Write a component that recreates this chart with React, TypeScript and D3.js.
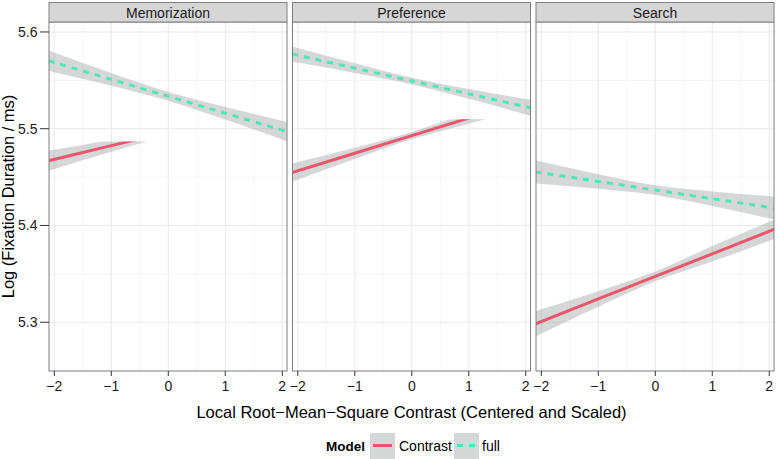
import React from "react";
import * as d3 from "d3";

const PANELS = ["Memorization", "Preference", "Search"];
const X_POINTS = [-2.1, -1, 0, 1, 2.1];
const X_TICKS = [-2, -1, 0, 1, 2];
const X_MINOR = [-1.5, -0.5, 0.5, 1.5];
const Y_TICKS = [5.3, 5.4, 5.5, 5.6];
const Y_MINOR = [5.25, 5.35, 5.45, 5.55];
const SERIES = ["Contrast", "full"];

const CONTRAST_FIT = [
  [5.4669, 5.4825, 5.4967, 5.511, 5.5265],
  [5.4546, 5.4746, 5.4928, 5.511, 5.531],
  [5.2984, 5.3241, 5.3474, 5.3707, 5.3964],
];
const CONTRAST_HALF = [
  [0.0105, 0.0062, 0.0042, 0.0062, 0.0105],
  [0.0095, 0.0058, 0.0038, 0.0058, 0.0095],
  [0.013, 0.008, 0.005, 0.008, 0.01],
];
const CONTRAST_LIMIT = [5.4868, 5.5098, null];
const FULL_FIT = [
  [5.5702, 5.551, 5.5335, 5.516, 5.4968],
  [5.5772, 5.5626, 5.5493, 5.536, 5.5214],
  [5.4553, 5.4455, 5.4366, 5.4277, 5.4179],
];
const FULL_HALF = [
  [0.0105, 0.0065, 0.0045, 0.0065, 0.01],
  [0.0078, 0.005, 0.0035, 0.005, 0.0085],
  [0.012, 0.0075, 0.005, 0.0075, 0.012],
];

const COLORS = { Contrast: "#E9566E", full: "#52E5B9" };
const RIBBON = "rgba(150,158,156,0.4)";
const FONT = "'Liberation Sans', Arial, Helvetica, sans-serif";

const W = 777;
const H = 459;
const LEFT0 = 49;
const PW = 238;
const GAP = 5.5;
const TOP = 22;
const BOTTOM = 371;
const STRIP_TOP = 2.5;

export default function App() {
  const y = d3.scaleLinear().domain([5.2496, 5.6103]).range([BOTTOM, TOP]);
  const xFor = (i: number) =>
    d3.scaleLinear().domain([-2.093, 2.083]).range([LEFT0 + i * (PW + GAP), LEFT0 + i * (PW + GAP) + PW]);

  const pts = (fit: number[], half: number[]) =>
    X_POINTS.map((x, k) => ({ x, fit: fit[k], lo: fit[k] - half[k], hi: fit[k] + half[k] }));

  const centerX = LEFT0 + (3 * PW + 2 * GAP) / 2;

  return (
    <svg width={W} height={H} style={{ position: "absolute", left: 0, top: 0, background: "#fff" }} fontFamily={FONT}>
      <rect x={0} y={0} width={W} height={H} fill="#fff" />
      {PANELS.map((name, i) => {
        const x = xFor(i);
        const x0 = x.range()[0];
        const x1 = x.range()[1];
        const area = d3
          .area<any>()
          .x((d) => x(d.x))
          .y0((d) => y(d.lo))
          .y1((d) => y(d.hi))
          .curve(d3.curveMonotoneX);
        const line = d3
          .line<any>()
          .x((d) => x(d.x))
          .y((d) => y(d.fit));
        const cData = pts(CONTRAST_FIT[i], CONTRAST_HALF[i]);
        const fData = pts(FULL_FIT[i], FULL_HALF[i]);
        const lim = CONTRAST_LIMIT[i];
        return (
          <g key={name}>
            <defs>
              <clipPath id={`clip${i}`}>
                <rect x={x0} y={TOP} width={x1 - x0} height={BOTTOM - TOP} />
              </clipPath>
              <clipPath id={`climit${i}`}>
                <rect
                  x={x0}
                  y={lim == null ? TOP : y(lim)}
                  width={x1 - x0}
                  height={BOTTOM - (lim == null ? TOP : y(lim))}
                />
              </clipPath>
            </defs>
            <rect x={x0} y={TOP} width={x1 - x0} height={BOTTOM - TOP} fill="#fff" />
            {X_MINOR.map((t) => (
              <line key={"xm" + t} x1={x(t)} x2={x(t)} y1={TOP} y2={BOTTOM} stroke="#f5f5f5" strokeWidth={1} />
            ))}
            {Y_MINOR.map((t) => (
              <line key={"ym" + t} x1={x0} x2={x1} y1={y(t)} y2={y(t)} stroke="#f5f5f5" strokeWidth={1} />
            ))}
            {X_TICKS.map((t) => (
              <line key={"xg" + t} x1={x(t)} x2={x(t)} y1={TOP} y2={BOTTOM} stroke="#e9e9e9" strokeWidth={1} />
            ))}
            {Y_TICKS.map((t) => (
              <line key={"yg" + t} x1={x0} x2={x1} y1={y(t)} y2={y(t)} stroke="#e9e9e9" strokeWidth={1} />
            ))}
            <g clipPath={`url(#clip${i})`}>
              <g clipPath={`url(#climit${i})`}>
                <path d={area(cData) || ""} fill={RIBBON} />
                <path d={line(cData) || ""} fill="none" stroke={COLORS.Contrast} strokeWidth={3} />
              </g>
              <path d={area(fData) || ""} fill={RIBBON} />
              <path
                d={line(fData) || ""}
                fill="none"
                stroke={COLORS.full}
                strokeWidth={3}
                strokeDasharray="6,6"
              />
            </g>
            <rect x={x0} y={TOP} width={x1 - x0} height={BOTTOM - TOP} fill="none" stroke="#7f7f7f" strokeWidth={1} />
            <rect
              x={x0}
              y={STRIP_TOP}
              width={x1 - x0}
              height={TOP - STRIP_TOP}
              fill="#d6d6d6"
              stroke="#7f7f7f"
              strokeWidth={1}
            />
            <text x={(x0 + x1) / 2} y={17.5} textAnchor="middle" fontSize={14} fill="#1a1a1a">
              {name}
            </text>
            {X_TICKS.map((t) => (
              <g key={"xt" + t}>
                <line x1={x(t)} x2={x(t)} y1={BOTTOM} y2={BOTTOM + 5} stroke="#333" strokeWidth={1} />
                <text x={x(t)} y={391} textAnchor="middle" fontSize={14} fill="#1a1a1a">
                  {t < 0 ? "\u2212" + Math.abs(t) : String(t)}
                </text>
              </g>
            ))}
          </g>
        );
      })}
      {Y_TICKS.map((t) => (
        <g key={"yt" + t}>
          <line x1={40} x2={LEFT0} y1={y(t)} y2={y(t)} stroke="#333" strokeWidth={1} />
          <text x={37.5} y={y(t) + 5} textAnchor="end" fontSize={14} fill="#1a1a1a">
            {t.toFixed(1)}
          </text>
        </g>
      ))}
      <text
        transform={`translate(14,${(TOP + BOTTOM) / 2}) rotate(-90)`}
        textAnchor="middle"
        fontSize={16.5}
        fill="#000"
      >
        Log (Fixation Duration / ms)
      </text>
      <text x={centerX} y={418} textAnchor="middle" fontSize={16.5} fill="#000">
        Local Root{"\u2212"}Mean{"\u2212"}Square Contrast (Centered and Scaled)
      </text>
      <g>
        <text x={326} y={451} fontSize={13.5} fontWeight="bold" fill="#000">
          Model
        </text>
        {SERIES.map((s, k) => {
          const kx = [370, 454][k];
          const tx = [399, 482][k];
          return (
            <g key={s}>
              <rect x={kx} y={433} width={25} height={26} fill={RIBBON} />
              <line
                x1={kx + 3}
                x2={kx + 22}
                y1={445.5}
                y2={445.5}
                stroke={COLORS[s as keyof typeof COLORS]}
                strokeWidth={3}
                strokeDasharray={s === "full" ? "6,6" : undefined}
              />
              <text x={tx} y={451} fontSize={14} fill="#000">
                {s}
              </text>
            </g>
          );
        })}
      </g>
    </svg>
  );
}
